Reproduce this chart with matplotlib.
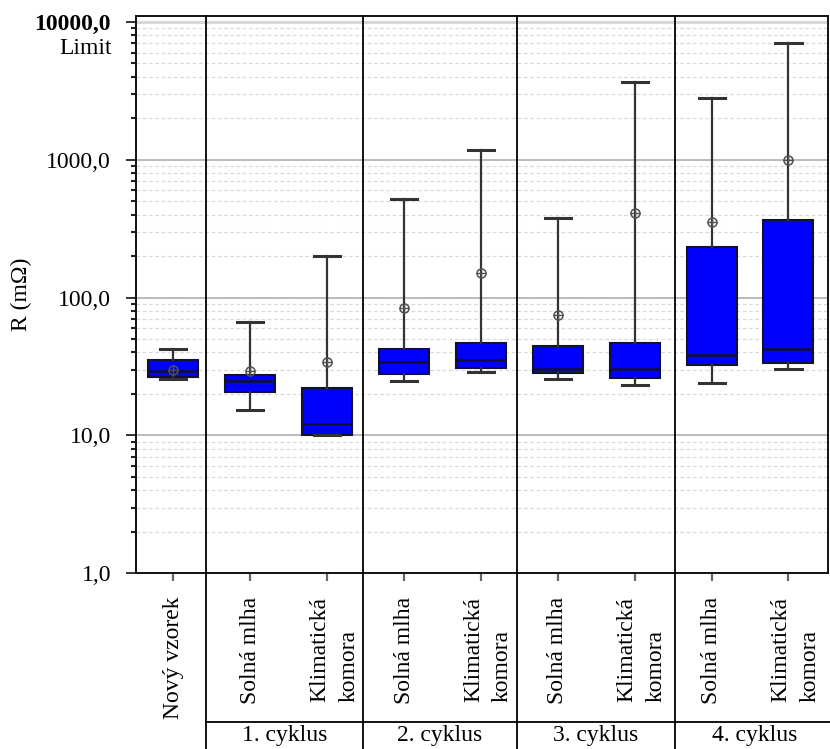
import matplotlib
matplotlib.use('Agg')
import matplotlib.pyplot as plt
import matplotlib.transforms as mtransforms
from matplotlib.ticker import LogLocator, FixedLocator, NullFormatter

plt.rcParams['font.family'] = ['Liberation Serif', 'DejaVu Serif']

# values (mOhm)
labels = ['Nový vzorek', 'Solná mlha', 'Klimatická\nkomora',
          'Solná mlha', 'Klimatická\nkomora', 'Solná mlha',
          'Klimatická\nkomora', 'Solná mlha', 'Klimatická\nkomora']
whislo = [25.8, 15.4, 10.0, 25.0, 29.0, 25.5, 23.2, 24.1, 30.4]
q1 = [26.6, 20.5, 10.05, 27.7, 30.6, 28.5, 26.2, 32.7, 33.6]
med = [29.2, 24.8, 12.1, 34.2, 35.5, 30.4, 30.4, 38.6, 42.7]
q3 = [35.3, 27.5, 22.2, 42.5, 46.6, 44.9, 47.0, 233.0, 367.0]
whishi = [42.2, 66.7, 199.0, 519.0, 1168.0, 378.0, 3690.0, 2800.0, 7080.0]
means = [30.0, 29.2, 34.0, 84.0, 151.0, 75.0, 411.0, 351.0, 1000.0]

groups = ['1. cyklus', '2. cyklus', '3. cyklus', '4. cyklus']
group_edges = [0.43, 2.46, 4.47, 6.52, 8.6]

y_ticks = [1, 10, 100, 1000, 10000]
y_ticklabels = ['1,0', '10,0', '100,0', '1000,0', '10000,0']
limit = 10000

FS = 17

fig = plt.figure(figsize=(8.3, 7.49), dpi=100)
ax = fig.add_axes([0.1635, 0.2346, 0.8337, 0.7444])

stats = []
for i in range(len(labels)):
    stats.append(dict(whislo=whislo[i], q1=q1[i], med=med[i], q3=q3[i],
                      whishi=whishi[i], mean=means[i], fliers=[]))

pos = list(range(len(labels)))
ax.bxp(stats, positions=pos, widths=0.65, capwidths=0.34,
       patch_artist=True, showmeans=True, showfliers=False,
       boxprops=dict(facecolor='#0000ff', edgecolor='#111133', linewidth=1.5),
       medianprops=dict(color='#101030', linewidth=1.8),
       whiskerprops=dict(color='#333333', linewidth=1.6),
       capprops=dict(color='#333333', linewidth=2.2),
       meanprops=dict(marker='o', markerfacecolor='none',
                      markeredgecolor='#505050', markersize=6.5,
                      markeredgewidth=1.1),
       zorder=3)
ax.plot(pos, means, linestyle='none', marker='+', color='#505050',
        markersize=6.5, markeredgewidth=1.0, zorder=4)

ax.set_yscale('log')
ax.set_ylim(1, 10 ** 4.045)
ax.set_xlim(-0.49, 8.51)

# grid
ax.yaxis.set_major_locator(FixedLocator(y_ticks))
ax.yaxis.set_minor_locator(LogLocator(base=10, subs=range(2, 10)))
ax.yaxis.set_minor_formatter(NullFormatter())
ax.set_yticklabels(y_ticklabels, fontsize=FS)
ax.get_yticklabels()[-1].set_fontweight('bold')
ax.grid(True, which='minor', axis='y', color='#dadada', linestyle=(0, (3, 2)),
        linewidth=0.9, zorder=0)
for v in y_ticks[1:-1]:
    ax.axhline(v, color='#a8a8a8', linewidth=1.1, zorder=1)
ax.axhline(limit, color='#d8d8d8', linewidth=2.2, zorder=1)

ax.annotate('Limit', xy=(0, limit), xycoords=('axes fraction', 'data'),
            xytext=(-17.5, -19), textcoords='offset points',
            ha='right', va='center', fontsize=FS)

ax.tick_params(axis='y', which='major', length=7.2, width=1.3,
               color='#222222', pad=10.5)
ax.tick_params(axis='y', which='minor', length=3.6, width=1.5,
               color='#222222')

ax.set_xticks(pos)
ax.set_xticklabels(labels, rotation=90, fontsize=FS, va='top', ha='center',
                   multialignment='left', linespacing=1.5)
ax.tick_params(axis='x', length=5.8, width=1.6, color='#666666', pad=11)
for lab in ax.get_xticklabels():
    if '\n' in lab.get_text():
        off = mtransforms.ScaledTranslation(7 / 100, 0, fig.dpi_scale_trans)
        lab.set_transform(lab.get_transform() + off)

ax.set_ylabel('R (mΩ)', fontsize=FS)
ax.yaxis.set_label_coords(-0.15, 0.5)

for s in ax.spines.values():
    s.set_linewidth(1.4)
    s.set_color('#111111')

# group separators running from the top of the plot down to the table
trans = mtransforms.blended_transform_factory(ax.transData, fig.transFigure)
top = 0.2346 + 0.7444
for x in group_edges[:-1]:
    ax.plot([x, x], [0, top], transform=trans, color='black',
            linewidth=1.3, clip_on=False, zorder=5)
ax.plot([group_edges[0], group_edges[-1]], [0.0364, 0.0364], transform=trans,
        color='black', linewidth=1.3, clip_on=False)
for g, name in enumerate(groups):
    cx = (group_edges[g] + group_edges[g + 1]) / 2
    ax.text(cx, 0.0185, name, transform=trans, ha='center', va='center',
            fontsize=FS)

fig.savefig('out.png', dpi=100)
